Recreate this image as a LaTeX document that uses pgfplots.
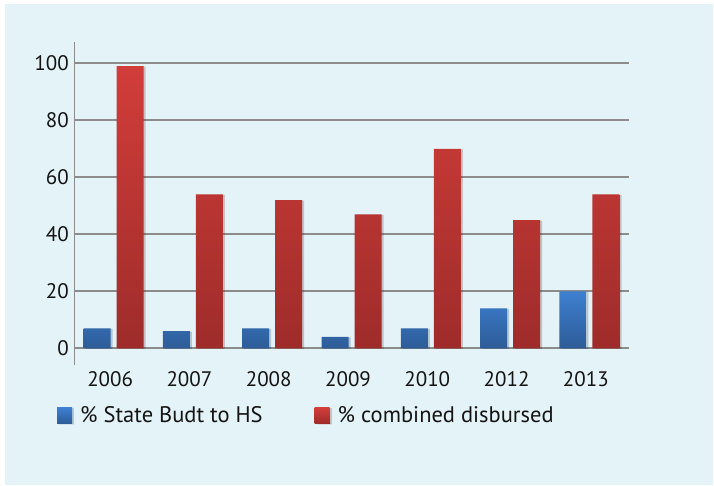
\documentclass[border=0pt]{standalone}
\usepackage{fontspec}
\setmainfont{PT Sans}
\usepackage{pgfplots}
\pgfplotsset{compat=1.18}
\usetikzlibrary{shadows}

\definecolor{panel}{HTML}{E4F3F7}
\definecolor{gridgray}{HTML}{8C8C8C}
\definecolor{bluetop}{HTML}{3E80D1}
\definecolor{bluebot}{HTML}{2D5C98}
\definecolor{redtop}{HTML}{D23D3A}
\definecolor{redbot}{HTML}{9E2C2A}
\definecolor{ink}{HTML}{141414}

\pgfplotstableread{
x  hs  disb
0  7   99
1  6   54
2  7   52
3  4   47
4  7   70
5  14  45
6  20  54
}\budget

\begin{document}
\begin{tikzpicture}
\useasboundingbox (0,0) rectangle (714pt,485pt);
\fill[white] (0,0) rectangle (714pt,485pt);
\fill[panel] (5pt,0) rectangle (713pt,481pt);
\begin{axis}[
  at={(74pt,120pt)}, anchor=south west,
  scale only axis, width=555pt, height=322.7pt,
  xmin=-0.5, xmax=6.5, ymin=-5.86, ymax=107.4,
  axis line style={draw=none},
  ybar=6pt, bar width=27pt,
  xtick={0,...,6},
  xticklabels={2006,2007,2008,2009,2010,2012,2013},
  ytick={0,20,...,100},
  major tick length=0pt,
  ymajorgrids,
  major grid style={draw=gridgray, line width=2pt},
  /pgf/number format/assume math mode=true,
  tick label style={font=\fontsize{21}{25}\selectfont, text=ink},
  y tick label style={anchor=east, inner sep=0pt, xshift=-5pt},
  x tick label style={anchor=north, inner sep=0pt, yshift=-6.7pt, xshift=-3.5pt},
  legend columns=2,
  legend style={at={(axis description cs:-0.0306,-0.157)}, anchor=west,
    draw=none, fill=none, inner sep=0pt,
    nodes={inner sep=0pt},
    font=\fontsize{22.5}{26}\selectfont, text=ink,
    /tikz/every odd column/.append style={column sep=8pt},
    /tikz/every even column/.append style={column sep=52pt}},
  legend image code/.code={\fill[#1] (0pt,-8pt) rectangle (15pt,8pt);},
  bar shadow/.style={drop shadow={shadow xshift=2pt, shadow yshift=-0.5pt, opacity=0.12, fill=black}},
]
\addplot[draw=none, top color=bluetop, bottom color=bluebot, bar shadow]
  table[x=x, y=hs] {\budget};
\addlegendentry{\% State Budt to HS}
\addplot[draw=none, top color=redtop, bottom color=redbot, bar shadow]
  table[x=x, y=disb] {\budget};
\addlegendentry{\% combined disbursed}
\draw[gridgray, line width=1.5pt] (rel axis cs:0,0) -- (rel axis cs:0,1);
\end{axis}
\end{tikzpicture}
\end{document}
